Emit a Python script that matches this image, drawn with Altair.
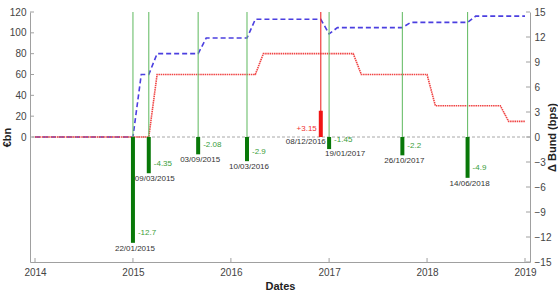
import altair as alt
import pandas as pd

# ---- data ----
BLUE_DATES = ["2014-01-01", "2015-01-01", "2015-02-01", "2015-03-01", "2015-04-01",
              "2015-09-01", "2015-10-01", "2016-03-01", "2016-04-01", "2016-12-01",
              "2017-01-01", "2017-02-01", "2017-10-01", "2017-11-01", "2018-06-01",
              "2018-07-01", "2019-01-01"]
BLUE_VALUES = [0, 0, 60, 60, 80, 80, 95, 95, 113, 113, 99, 105, 105, 110, 110, 116, 116]

RED_DATES = ["2014-01-01", "2015-03-01", "2015-04-01", "2016-04-01", "2016-05-01",
             "2017-04-01", "2017-05-01", "2018-01-01", "2018-02-01", "2018-10-01",
             "2018-11-01", "2019-01-01"]
RED_VALUES = [0, 0, 60, 60, 80, 80, 60, 60, 30, 30, 15, 15]

EVENT_DATES = ["2015-01-01", "2015-03-01", "2015-09-01", "2016-03-01",
               "2016-12-01", "2017-01-01", "2017-10-01", "2018-06-01"]
EVENT_LABELS = ["22/01/2015", "09/03/2015", "03/09/2015", "10/03/2016",
                "08/12/2016", "19/01/2017", "26/10/2017", "14/06/2018"]
BUND_CHANGES = [-12.7, -4.35, -2.08, -2.9, 3.15, -1.45, -2.2, -4.9]
VALUE_TEXT = ["-12.7", "-4.35", "-2.08", "-2.9", "+3.15", "-1.45", "-2.2", "-4.9"]

YEARS = [2014, 2015, 2016, 2017, 2018, 2019]
LEFT_TICKS = [0, 20, 40, 60, 80, 100, 120]
RIGHT_TICKS = [-15, -12, -9, -6, -3, 0, 3, 6, 9, 12, 15]

# ---- tables ----
blue_df = pd.DataFrame({"date": BLUE_DATES, "v": BLUE_VALUES})
red_df = pd.DataFrame({"date": RED_DATES, "v": RED_VALUES})
ev_df = pd.DataFrame({"date": EVENT_DATES, "label": EVENT_LABELS,
                      "change": BUND_CHANGES, "vtext": VALUE_TEXT})
lt_df = pd.DataFrame({"v": LEFT_TICKS})
rt_df = pd.DataFrame({"change": RIGHT_TICKS})
yr_df = pd.DataFrame({"date": [f"{y}-01-01" for y in YEARS]})

FONT = "Liberation Sans"
AXIS_GRAY = "#a0a0a0"

xscale = alt.Scale(type="utc",
                   domain=[alt.DateTime(year=YEARS[0], month=1, date=1, utc=True),
                           alt.DateTime(year=YEARS[-1], month=1, date=1, utc=True)])
XAX = alt.Axis(values=[alt.DateTime(year=y, month=1, date=1, utc=True) for y in YEARS],
               format="%Y", labelFlush=False, labelOverlap=False,
               labelPadding=5, titlePadding=3)
X = alt.X("date:T", scale=xscale, title="Dates", axis=XAX)

lscale = alt.Scale(domain=[-120, 120], nice=False, zero=False)
rscale = alt.Scale(domain=[-15, 15], nice=False, zero=False)
LAX = alt.Axis(values=LEFT_TICKS, orient="left", labelPadding=4, titlePadding=-3)
RAX = alt.Axis(values=RIGHT_TICKS, orient="right", labelPadding=4,
               titleAngle=270, titleBaseline="top", titlePadding=-4)


def YL(field):
    return alt.Y(field, scale=lscale, title="€bn", axis=LAX)


def YR(field):
    return alt.Y(field, scale=rscale, title="Δ Bund (bps)", axis=RAX)


# ---- left (€bn) layers ----
zero = alt.Chart(lt_df).transform_filter(alt.datum.v == 0).mark_rule(
    color="#a8a8a8", strokeDash=[3, 2], strokeWidth=1
).encode(y=YL("v:Q"))
blue = alt.Chart(blue_df).mark_line(color="#4b3fe0", strokeDash=[5, 3], strokeWidth=1.6).encode(
    x=X, y=YL("v:Q")
)
red = alt.Chart(red_df).mark_line(color="#f04444", strokeDash=[1.5, 0.7], strokeWidth=1.6).encode(
    x=X, y=YL("v:Q")
)
lticks = alt.Chart(lt_df).mark_rule(color=AXIS_GRAY).encode(
    y=YL("v:Q"), x=alt.value(0), x2=alt.value(4)
)
left = alt.layer(zero, blue, red, lticks)

# ---- right (bps) layers ----
is_pos = alt.datum.change > 0
base = alt.Chart(ev_df).transform_calculate(z="0")
erules = base.mark_rule(strokeWidth=1.1).encode(
    x=X, y=YR("z:Q"), y2=alt.datum(15),
    color=alt.condition(is_pos, alt.value("#ee2a2a"), alt.value("#6cbf6c")),
)
bars = base.mark_bar(size=4).encode(
    x=X, y=YR("change:Q"), y2="z:Q",
    color=alt.condition(is_pos, alt.value("#f01515"), alt.value("#087808")),
)
neg_vals = base.transform_filter(alt.datum.change < 0).mark_text(
    align="left", baseline="middle", dx=5, dy=-9.5, fontSize=8, font=FONT, color="#3a9e3a"
).encode(x=X, y=YR("change:Q"), text="vtext:N")
pos_vals = base.transform_filter(is_pos).mark_text(
    align="right", baseline="middle", dx=-4, dy=-8.5, fontSize=8, font=FONT, color="#f03030"
).encode(x=X, y=YR("z:Q"), text="vtext:N")
date_c = base.transform_filter(
    (alt.datum.change < 0) & (alt.datum.label != "19/01/2017") & (alt.datum.label != "09/03/2015")
).mark_text(
    align="center", baseline="top", dx=2, dy=2, fontSize=8, font=FONT, color="#333333"
).encode(x=X, y=YR("change:Q"), text="label:N")
date_m = base.transform_filter(alt.datum.label == "09/03/2015").mark_text(
    align="left", baseline="top", dx=-14, dy=2, fontSize=8, font=FONT, color="#333333"
).encode(x=X, y=YR("change:Q"), text="label:N")
date_l = base.transform_filter(alt.datum.label == "19/01/2017").mark_text(
    align="left", baseline="top", dx=-4, dy=1, fontSize=8, font=FONT, color="#333333"
).encode(x=X, y=YR("change:Q"), text="label:N")
date_p = base.transform_filter(is_pos).mark_text(
    align="right", baseline="top", dx=5, dy=1, fontSize=8, font=FONT, color="#333333"
).encode(x=X, y=YR("z:Q"), text="label:N")
rticks = alt.Chart(rt_df).mark_rule(color=AXIS_GRAY).encode(
    y=YR("change:Q"), x=alt.value(500), x2=alt.value(496)
)
xticks = alt.Chart(yr_df).mark_rule(color=AXIS_GRAY).encode(
    x=X, y=alt.value(250), y2=alt.value(246)
)
right = alt.layer(erules, bars, neg_vals, pos_vals, date_c, date_m, date_l, date_p, rticks, xticks)

chart = alt.layer(left, right).resolve_scale(y="independent").properties(
    width=500, height=250,
    autosize=alt.AutoSizeParams(type="none"),
    padding={"left": 30, "top": 12, "right": 28, "bottom": 28},
    background="white",
).configure_view(stroke=None).configure_axis(
    grid=False, ticks=False, tickSize=0, domainColor=AXIS_GRAY,
    labelColor="#444444", labelFont=FONT, labelFontSize=10,
    titleFont=FONT, titleFontSize=11, titleFontWeight="bold", titleColor="#222222",
)

chart.save("out.html", embed_options={"renderer": "svg", "actions": False})
